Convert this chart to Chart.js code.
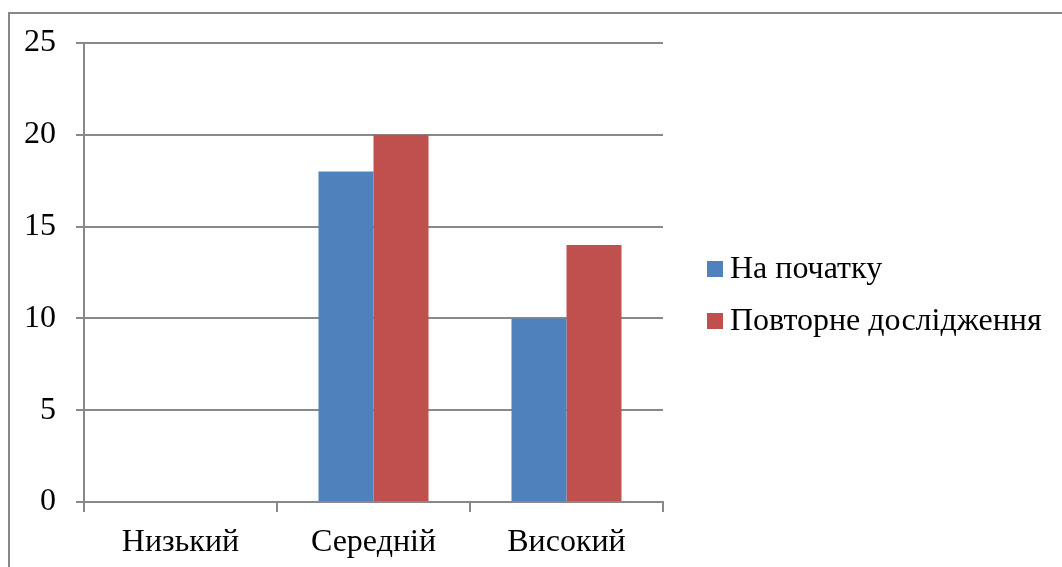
<!DOCTYPE html>
<html>
<head>
<meta charset="utf-8">
<script src="https://cdn.jsdelivr.net/npm/chart.js@4/dist/chart.umd.min.js"></script>
<style>
  html, body { margin: 0; padding: 0; background: #fff; }
  #wrap { position: relative; width: 1062px; height: 567px; }
</style>
</head>
<body>
<div id="wrap"><canvas id="c" width="1062" height="567"></canvas></div>
<script>
// Рівні та результати двох зрізів
const categories = ['Низький', 'Середній', 'Високий'];
const seriesNames = ['На початку', 'Повторне дослідження'];
const initialValues = [0, 18, 10];
const repeatValues = [0, 20, 14];
const yTicks = [0, 5, 10, 15, 20, 25];

const FONT = '"Liberation Serif", "Times New Roman", serif';
const FONT_SIZE = 32;
const GRID = '#898989';
const COLORS = ['#4F81BD', '#C0504D'];

// Рамка діаграми та легенда праворуч
const framePlugin = {
  id: 'frame',
  beforeDraw(chart) {
    const ctx = chart.ctx;
    ctx.save();
    ctx.fillStyle = '#fff';
    ctx.fillRect(0, 0, chart.width, chart.height);
    ctx.strokeStyle = '#878787';
    ctx.lineWidth = 2;
    ctx.beginPath();
    ctx.moveTo(9, chart.height);
    ctx.lineTo(9, 13);
    ctx.lineTo(chart.width, 13);
    ctx.stroke();
    ctx.restore();
  },
  afterDraw(chart) {
    const ctx = chart.ctx;
    ctx.save();
    ctx.font = FONT_SIZE + 'px ' + FONT;
    ctx.textBaseline = 'middle';
    ctx.textAlign = 'left';
    const x0 = 707, ys = [269, 321];
    chart.data.datasets.forEach((ds, i) => {
      ctx.fillStyle = ds.backgroundColor;
      ctx.fillRect(x0, ys[i] - 8, 16, 16);
      ctx.fillStyle = '#000';
      ctx.fillText(ds.label, x0 + 23, ys[i] + 1);
    });
    ctx.restore();
  }
};

new Chart(document.getElementById('c'), {
  type: 'bar',
  data: {
    labels: categories,
    datasets: [
      { label: seriesNames[0], data: initialValues, backgroundColor: COLORS[0] },
      { label: seriesNames[1], data: repeatValues, backgroundColor: COLORS[1] }
    ]
  },
  options: {
    responsive: false,
    animation: false,
    devicePixelRatio: 1,
    layout: { padding: { left: 0, top: 43, right: 399, bottom: 0 } },
    datasets: { bar: { categoryPercentage: 0.57, barPercentage: 1 } },
    plugins: { legend: { display: false }, tooltip: { enabled: false } },
    scales: {
      x: {
        afterFit(s) { s.height = 65; },
        grid: { display: true, drawOnChartArea: false, drawTicks: true, tickLength: 10, color: GRID, lineWidth: 2, offset: true },
        border: { display: true, color: GRID, width: 2 },
        ticks: { color: '#000', font: { family: FONT, size: FONT_SIZE }, padding: 11 }
      },
      y: {
        min: 0,
        max: 25,
        afterFit(s) { s.width = 84; },
        afterBuildTicks(s) { s.ticks = yTicks.map(v => ({ value: v })); },
        grid: { color: GRID, lineWidth: 2, drawTicks: true, tickLength: 8 },
        border: { display: true, color: GRID, width: 2 },
        ticks: { color: '#000', font: { family: FONT, size: FONT_SIZE }, padding: 20 }
      }
    }
  },
  plugins: [framePlugin]
});
</script>
</body>
</html>
